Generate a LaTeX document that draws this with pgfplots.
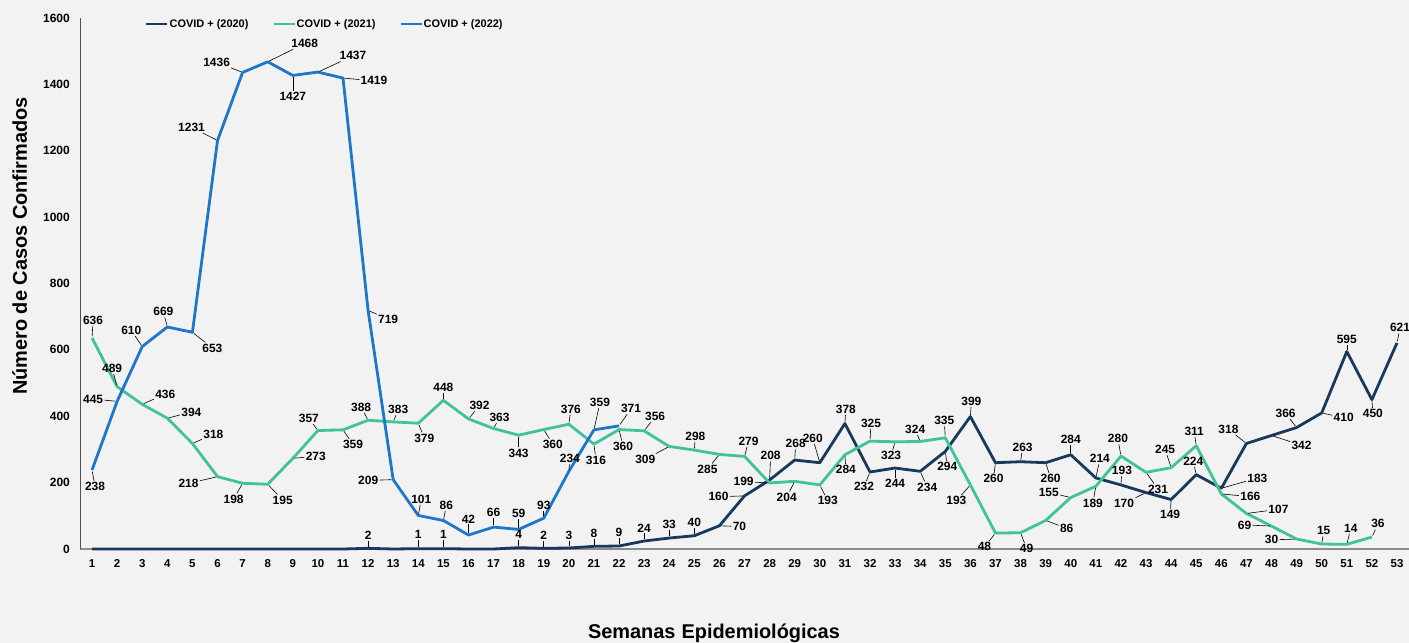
\documentclass[border=0pt]{standalone}
\usepackage{fontspec}
\setmainfont{Liberation Sans}
\usepackage{pgfplots}
\pgfplotsset{compat=1.18}
\usepackage{pgfplotstable}
\definecolor{bgc}{RGB}{242,242,242}
\definecolor{c20}{RGB}{24,56,92}
\definecolor{c21}{RGB}{64,194,154}
\definecolor{c22}{RGB}{30,118,200}
\newcommand\lblfont{\fontsize{12}{12}\selectfont\bfseries}

% x = semana, y = casos, dx/dy = posicion de la etiqueta (bp), s = mostrar etiqueta
\pgfplotstableread{
x y dx dy s
1 0 0 0 0
2 0 0 0 0
3 0 0 0 0
4 0 0 0 0
5 0 0 0 0
6 0 0 0 0
7 0 0 0 0
8 0 0 0 0
9 0 0 0 0
10 0 0 0 0
11 0 0 0 0
12 2 0 13 1
13 0 0 0 0
14 1 0 14 1
15 1 0 14 1
16 0 0 0 0
17 0 0 0 0
18 4 0 13 1
19 2 0 13 1
20 3 0 12 1
21 8 0 13 1
22 9 0 13 1
23 24 0 13 1
24 33 0 13 1
25 40 0 13 1
26 70 20 -1 1
27 160 -26 -1 1
28 208 1 24 1
29 268 1 16 1
30 260 -7 24 1
31 378 1 14 1
32 232 -6 -15 1
33 244 0 -16 1
34 234 7 -16 1
35 294 2 -15 1
36 399 1 15 1
37 260 -2 -16 1
38 263 2 14 1
39 260 5 -16 1
40 284 0 15 1
41 214 4 19 1
42 193 1 14 1
43 170 -22 -11 1
44 149 -1 -15 1
45 224 -3 13 1
46 183 36 10 1
47 318 -18 14 1
48 342 30 -10 1
49 366 -11 14 1
50 410 22 -5 1
51 595 0 12 1
52 450 1 -14 1
53 621 3 15 1
}\tabA

\pgfplotstableread{
x y dx dy s
1 636 1 17 1
2 489 -5 18 1
3 436 23 10 1
4 394 24 6 1
5 318 21 9 1
6 218 -29 -7 1
7 198 -9 -16 1
8 195 15 -16 1
9 273 23 2 1
10 357 -9 12 1
11 359 10 -15 1
12 388 -7 13 1
13 383 5 12 1
14 379 6 -15 1
15 448 0 13 1
16 392 11 13 1
17 363 6 11 1
18 343 0 -18 1
19 360 9 -15 1
20 376 2 15 1
21 316 2 -16 1
22 360 4 -17 1
23 356 11 14 1
24 309 -24 -13 1
25 298 1 14 1
26 285 -12 -15 1
27 279 4 15 1
28 199 -26 1 1
29 204 -8 -16 1
30 193 8 -16 1
31 284 1 -15 1
32 325 1 18 1
33 323 -4 -14 1
34 324 -5 12 1
35 335 -1 17 1
36 193 -14 -16 1
37 48 -11 -14 1
38 49 6 -16 1
39 86 21 -8 1
40 155 -22 5 1
41 189 -3 -17 1
42 280 -3 17 1
43 231 12 -17 1
44 245 -6 18 1
45 311 -2 14 1
46 166 29 -3 1
47 107 32 4 1
48 69 -27 1 1
49 30 -25 -1 1
50 15 2 13 1
51 14 4 16 1
52 36 6 13 1
}\tabB

\pgfplotstableread{
x y dx dy s
1 238 3 -17 1
2 445 -24 2 1
3 610 -11 16 1
4 669 -4 15 1
5 653 20 -16 1
6 1231 -26 13 1
7 1436 -26 10 1
8 1468 37 18 1
9 1427 0 -21 1
10 1437 35 16 1
11 1419 31 -3 1
12 719 20 -9 1
13 209 -25 -1 1
14 101 3 16 1
15 86 3 15 1
16 42 0 16 1
17 66 0 15 1
18 59 0 16 1
19 93 0 13 1
20 234 1 13 1
21 359 6 27 1
22 371 12 17 1
}\tabC

\pgfplotsset{
  lbl/.style={
    draw=none, mark=none, forget plot,
    restrict expr to domain={\thisrow{s}}{0.5:1.5},
    visualization depends on={\thisrow{y} \as \lv},
    visualization depends on={\thisrow{dx} \as \ldx},
    visualization depends on={\thisrow{dy} \as \ldy},
    nodes near coords={},
    every node near coord/.style={inner sep=0pt, minimum size=0pt, anchor=center,
      pin={[pin distance=0pt, pin edge={black, line width=0.6bp, shorten <=1.5bp}, font=\lblfont, inner sep=1.2bp, anchor=center, xshift=\ldx bp, yshift=\ldy bp]90:\pgfmathprintnumber[fixed,precision=0,1000 sep={}]{\lv}}},
  },
}

\begin{document}
\begin{tikzpicture}
\useasboundingbox (0,0) rectangle (1409bp,643bp);
\fill[bgc] (0,0) rectangle (1409bp,643bp);
\begin{axis}[
  at={(80bp,94bp)}, anchor=south west,
  scale only axis, width=1329bp, height=531bp,
  xmin=0.52, xmax=53.48, ymin=0, ymax=1600,
  clip=false,
  axis x line*=bottom, axis y line*=left,
  x axis line style={draw={rgb,255:red,140;green,140;blue,140}, line width=1.8bp},
  y axis line style={draw={rgb,255:red,80;green,80;blue,80}, line width=1bp},
  xtick={1,...,53}, ytick={0,200,...,1600},
  major tick length=0pt,
  /pgf/number format/assume math mode=true,
  /pgf/number format/1000 sep={},
  xticklabel style={font=\fontsize{11.5}{12}\selectfont\bfseries, anchor=north, inner sep=0pt, yshift=-10bp},
  yticklabel style={font=\fontsize{12}{12}\selectfont\bfseries, anchor=east, inner sep=0pt, xshift=-10bp},
  every axis x label/.style={at={(axis description cs:0.477,-0.158)}, anchor=center, font=\fontsize{20}{22}\selectfont\bfseries},
  every axis y label/.style={at={(axis description cs:-0.0453,0.5706)}, anchor=center, rotate=90, font=\fontsize{20}{22}\selectfont\bfseries},
  xlabel={Semanas\hspace{6bp}Epidemiológicas},
  ylabel={Número de Casos Confirmados},
  legend columns=3,
  legend style={at={(axis description cs:0.0489,0.9887)}, anchor=west, draw=none, fill=none,
    font=\fontsize{11}{12}\selectfont\bfseries, inner xsep=0pt, inner ysep=0pt,
    nodes={inner sep=0.8bp},
    /tikz/every even column/.append style={column sep=23bp}},
  legend image code/.code={\draw[#1, line width=2.6bp] (0bp,0bp) -- (21bp,0bp);},
]
\addplot[c20, line width=2.8bp, line join=round] table[x=x, y=y] {\tabA};
\addlegendentry{COVID + (2020)}
\addplot[c21, line width=2.8bp, line join=round] table[x=x, y=y] {\tabB};
\addlegendentry{COVID + (2021)}
\addplot[c22, line width=2.8bp, line join=round] table[x=x, y=y] {\tabC};
\addlegendentry{COVID + (2022)}
\addplot[lbl] table[x=x, y=y] {\tabA};
\addplot[lbl] table[x=x, y=y] {\tabB};
\addplot[lbl] table[x=x, y=y] {\tabC};
\end{axis}
\end{tikzpicture}
\end{document}
